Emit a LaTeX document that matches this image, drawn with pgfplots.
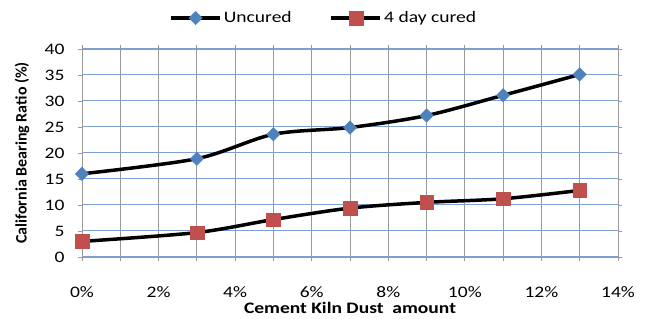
\documentclass[border=0pt]{standalone}
\usepackage{pgfplots}
\pgfplotsset{compat=1.18}
\usepackage{fontspec}
\setmainfont[FakeStretch=1.22]{Carlito}
\newfontfamily\plainfont{Carlito}
\definecolor{ublue}{HTML}{4F81BD}
\definecolor{cred}{HTML}{C0504D}
\definecolor{hgrid}{HTML}{7EA0D2}
\definecolor{vgrid}{HTML}{999999}
\begin{document}
\begin{tikzpicture}
\begin{axis}[
  scale only axis,
  width=536pt, height=208pt,
  xmin=0, xmax=14, ymin=0, ymax=40,
  xtick={0,2,...,14},
  xticklabels={0\%,2\%,4\%,6\%,8\%,10\%,12\%,14\%},
  minor x tick num=1,
  ytick={0,5,...,40},
  xmajorgrids, xminorgrids, ymajorgrids,
  major x grid style={vgrid, line width=0.9pt},
  minor x grid style={vgrid, line width=0.9pt},
  major y grid style={hgrid, line width=1pt},
  axis line style={vgrid, line width=0.9pt},
  tick style={vgrid, line width=0.9pt},
  tick align=outside,
  major tick length=4pt, minor tick length=4pt,
  ticklabel style={font=\fontsize{16}{18}\selectfont},
  /pgf/number format/assume math mode=true,
  xticklabel style={anchor=center, yshift=-31pt},
  yticklabel style={anchor=east, xshift=-10pt},
  xlabel={\textbf{Cement Kiln Dust\ \ amount}},
  ylabel={\plainfont\bfseries California Bearing Ratio (\%)},
  label style={font=\fontsize{16}{18}\selectfont},
  xlabel style={at={(axis description cs:0.5,-0.245)}, anchor=center},
  ylabel style={at={(axis description cs:-0.112,0.5)}, anchor=center},
  legend style={at={(axis description cs:0.451,1.149)}, anchor=center,
    draw=none, fill=none,
    legend columns=2, font=\fontsize{16}{18}\selectfont,
    /tikz/every even column/.append style={column sep=36pt}},
  legend image code/.code={
    \draw[#1, mark=none] (0pt,0pt) -- (49pt,0pt);
    \draw[#1, only marks] plot coordinates {(24.5pt,0pt)};
  },
]
\addplot[black, line width=3.5pt, smooth, mark=diamond*, mark size=6.8pt,
  mark options={fill=ublue, draw=ublue, line width=0.3pt, xscale=1.33}]
  coordinates {(0,16.0) (3,18.9) (5,23.6) (7,24.9) (9,27.2) (11,31.1) (13,35.1)};
\addlegendentry{Uncured}
\addplot[black, line width=3.5pt, smooth, mark=square*, mark size=6.8pt,
  mark options={fill=cred, draw=cred, line width=0.3pt}]
  coordinates {(0,3.0) (3,4.7) (5,7.2) (7,9.4) (9,10.5) (11,11.2) (13,12.8)};
\addlegendentry{4 day cured}
\coordinate (sw) at (rel axis cs:0,0);
\coordinate (ne) at (rel axis cs:1,1);
\end{axis}
\path ([shift={(-82pt,-62pt)}]sw) rectangle ([shift={(28pt,49pt)}]ne);
\end{tikzpicture}
\end{document}
